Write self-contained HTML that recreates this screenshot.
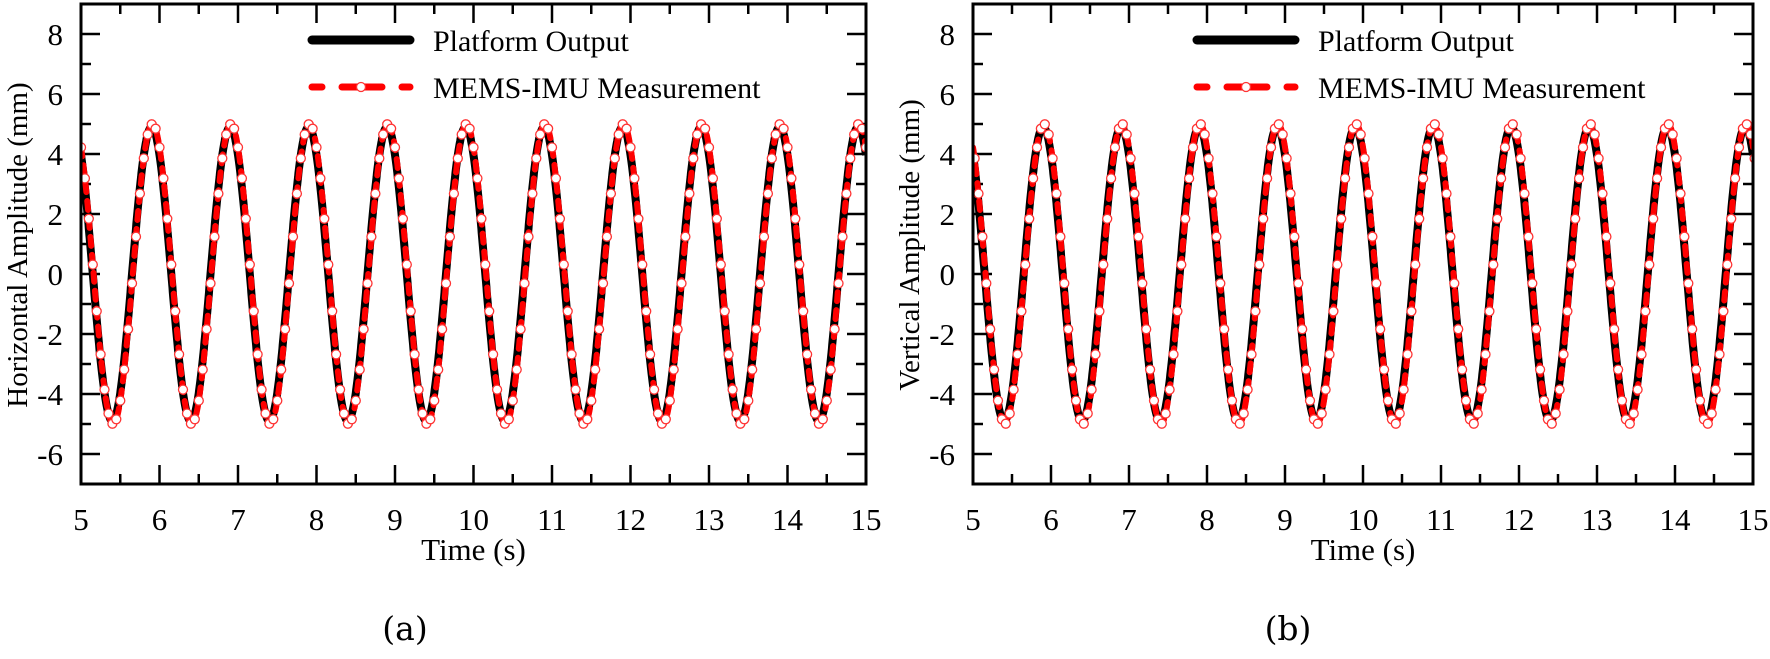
<!DOCTYPE html>
<html><head><meta charset="utf-8"><style>
html,body{margin:0;padding:0;background:#fff;}
svg{display:block;}
text{font-family:"Liberation Serif",serif;fill:#000;}
</style></head><body>
<svg id="s" width="1770" height="659" viewBox="0 0 1770 659" xmlns="http://www.w3.org/2000/svg"></svg>
<script>
const S=document.getElementById('s');let h='';
function panel(x0,x1,ylab,ph,lx,letter,lcx){
  const y0=4,y1=484;
  const X=t=>x0+(t-5)/10*(x1-x0), Y=v=>y0+(9-v)/16*(y1-y0);
  h+=`<defs><clipPath id="c${x0}"><rect x="${x0}" y="${y0}" width="${x1-x0}" height="${y1-y0}"/></clipPath></defs>`;
  // ticks
  for(let t=5;t<=15.001;t+=0.5){const maj=Math.abs(t-Math.round(t))<0.01;const L=maj?19:10;const x=X(t);
    h+=`<line x1="${x}" y1="${y1}" x2="${x}" y2="${y1-L}" stroke="#000" stroke-width="2.5"/><line x1="${x}" y1="${y0}" x2="${x}" y2="${y0+L}" stroke="#000" stroke-width="2.5"/>`;
    if(maj)h+=`<text x="${x}" y="${y1+46}" font-size="31" text-anchor="middle">${Math.round(t)}</text>`;}
  for(let v=-7;v<=9;v++){const maj=v%2==0;const L=maj?19:10;const y=Y(v);
    h+=`<line x1="${x0}" y1="${y}" x2="${x0+L}" y2="${y}" stroke="#000" stroke-width="2.5"/><line x1="${x1}" y1="${y}" x2="${x1-L}" y2="${y}" stroke="#000" stroke-width="2.5"/>`;
    if(maj&&v>=-6&&v<=8)h+=`<text x="${x0-18}" y="${y+11}" font-size="31" text-anchor="end">${v<0?'-'+(-v):v}</text>`;}
  // curves
  let pb='',pr='',circ='';
  for(let i=0;i<=2000;i++){const t=5+i*10/2000;pb+=(i?'L':'M')+X(t).toFixed(1)+','+Y(4.9*Math.cos(2*Math.PI*(t-5.9))).toFixed(1);}
  for(let i=0;i<=2000;i++){const t=5+i*10/2000;pr+=(i?'L':'M')+X(t).toFixed(1)+','+Y(5.0*Math.cos(2*Math.PI*(t-5.9-0.01))).toFixed(1);}
  for(let i=0;i<=200;i++){const t=5+i*0.05+ph;const v=5.0*Math.cos(2*Math.PI*(t-5.9-0.01));circ+=`<circle cx="${X(t).toFixed(1)}" cy="${Y(v).toFixed(1)}" r="4.5" fill="#fff" stroke="#f33" stroke-width="1.3"/>`;}
  h+=`<g clip-path="url(#c${x0})"><path d="${pb}" fill="none" stroke="#000" stroke-width="8"/><path d="${pr}" fill="none" stroke="#f00" stroke-width="6" stroke-dasharray="9,9" stroke-linecap="round"/>${circ}</g>`;
  h+=`<rect x="${x0}" y="${y0}" width="${x1-x0}" height="${y1-y0}" fill="none" stroke="#000" stroke-width="3"/>`;
  // legend
  h+=`<line x1="${lx}" y1="40" x2="${lx+98}" y2="40" stroke="#000" stroke-width="9" stroke-linecap="round"/>`;
  h+=`<text x="${lx+121}" y="51" font-size="30">Platform Output</text>`;
  h+=`<line x1="${lx}" y1="87" x2="${lx+98}" y2="87" stroke="#f00" stroke-width="7" stroke-dasharray="10,20" stroke-linecap="round"/><line x1="${lx+32}" y1="87" x2="${lx+66}" y2="87" stroke="#f00" stroke-width="7" stroke-linecap="round"/><circle cx="${lx+49}" cy="87" r="4.5" fill="#fff" stroke="#f33" stroke-width="1.3"/>`;
  h+=`<text x="${lx+121}" y="98" font-size="30">MEMS-IMU Measurement</text>`;
  h+=`<text x="${(x0+x1)/2}" y="560" font-size="31" text-anchor="middle">Time (s)</text>`;
  h+=`<text transform="translate(${x0-54},245) rotate(-90)" font-size="29" text-anchor="middle">${ylab}</text>`;
  h+=`<text x="${lcx}" y="640" font-size="33" text-anchor="middle" style="font-family:'DejaVu Serif','Liberation Serif',serif">${letter}</text>`;
}
panel(81,866,'Horizontal Amplitude (mm)',0,312,'(a)',405);
panel(973,1753,'Vertical Amplitude (mm)',0.02,1197,'(b)',1288);
S.innerHTML=h;
</script>
</body></html>
